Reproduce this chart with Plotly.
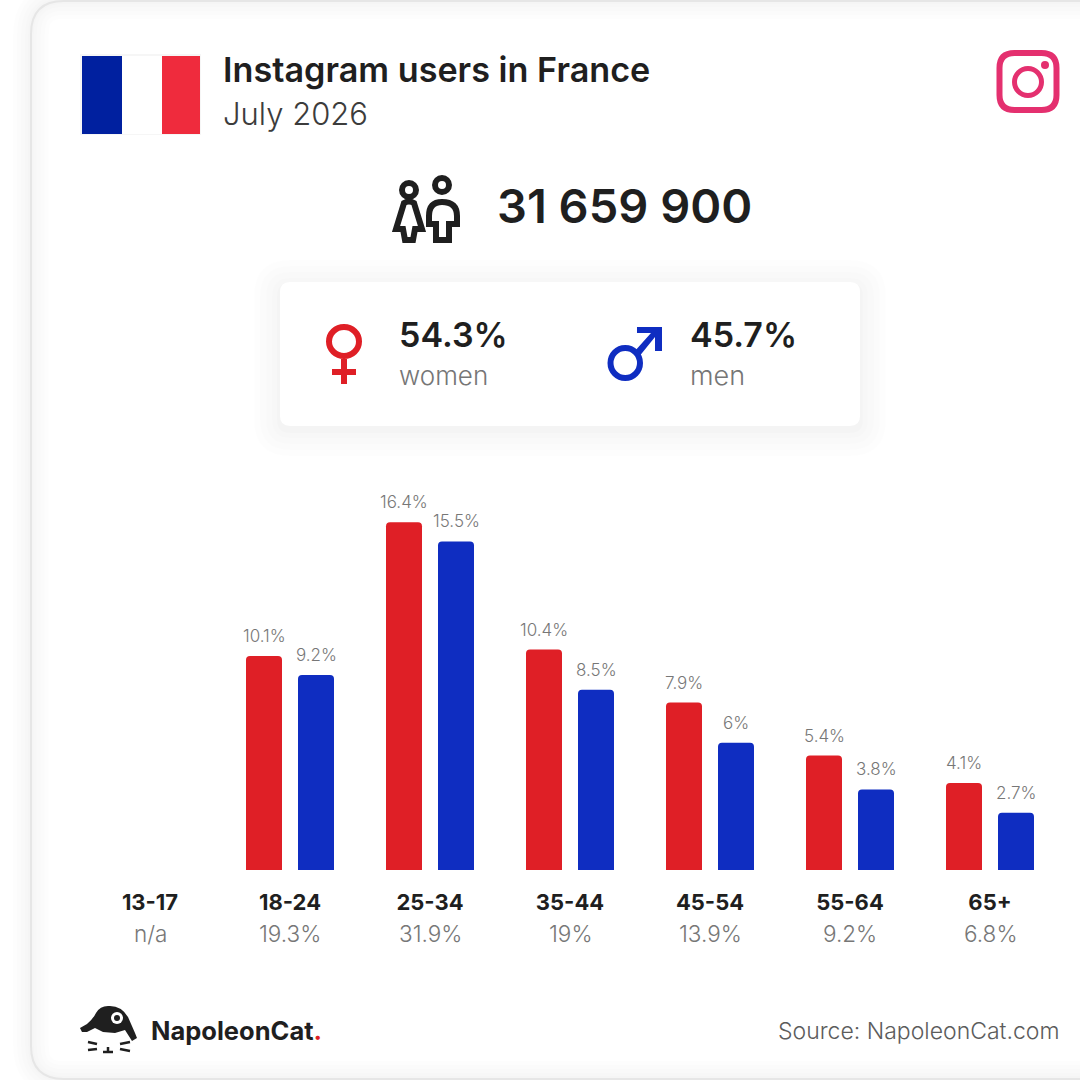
import plotly.graph_objects as go

ages = ['13-17', '18-24', '25-34', '35-44', '45-54', '55-64', '65+']
women = [None, 10.1, 16.4, 10.4, 7.9, 5.4, 4.1]
men = [None, 9.2, 15.5, 8.5, 6, 3.8, 2.7]
totals = ['n/a', '19.3%', '31.9%', '19%', '13.9%', '9.2%', '6.8%']

total_users = '31 659 900'
women_share = '54.3%'
men_share = '45.7%'

FONT = 'Inter'
INK = '#1f1f1f'
GREY = '#777777'
RED = '#df1f26'
BLUE = '#0f2dc1'
PINK = '#e4306f'

STEP = 140  # px between age groups
BAR = 36
BASE = 870  # px of the zero line
PX_PER_UNIT = 21.2


def fx(x):
    return x / 1080


def fy(y):
    return 1 - y / 1080


def path(*parts):
    # parts are letters or (x, y) in picture pixels
    out = []
    for part in parts:
        if isinstance(part, str):
            out.append(part)
        else:
            out.append(f'{fx(part[0]):.5f},{fy(part[1]):.5f}')
    return ' '.join(out)


def rounded(x0, y0, x1, y1, r):
    return path('M', (x0 + r, y0), 'L', (x1 - r, y0), 'Q', (x1, y0), (x1, y0 + r),
                'L', (x1, y1 - r), 'Q', (x1, y1), (x1 - r, y1), 'L', (x0 + r, y1),
                'Q', (x0, y1), (x0, y1 - r), 'L', (x0, y0 + r), 'Q', (x0, y0), (x0 + r, y0), 'Z')


shapes = []


def add_path(d, fill=None, line=None, width=0):
    s = dict(type='path', path=d, xref='paper', yref='paper', line=dict(width=width, color=line or 'rgba(0,0,0,0)'))
    if fill:
        s['fillcolor'] = fill
    shapes.append(s)


def add_rect(x0, y0, x1, y1, fill, line=None, width=0):
    shapes.append(dict(type='rect', xref='paper', yref='paper', x0=fx(x0), x1=fx(x1), y0=fy(y1), y1=fy(y0),
                       fillcolor=fill, line=dict(width=width, color=line or 'rgba(0,0,0,0)')))


def add_oval(x0, y0, x1, y1, fill=None, line=None, width=0):
    s = dict(type='circle', xref='paper', yref='paper', x0=fx(x0), x1=fx(x1), y0=fy(y1), y1=fy(y0),
             line=dict(width=width, color=line or 'rgba(0,0,0,0)'))
    if fill:
        s['fillcolor'] = fill
    shapes.append(s)


# card with a soft outer shadow
card = path('M', (1090, 1), 'L', (64, 1), 'Q', (31, 1), (31, 34), 'L', (31, 1046), 'Q', (31, 1079), (64, 1079), 'L', (1090, 1079))
for w in [36, 28, 20, 12, 6]:
    add_path(card, line='rgba(0,0,0,0.006)', width=w)
add_path(card, line='#e6e6e6', width=2)

# flag
add_rect(80, 54, 201, 135, '#f6f6f6')
add_rect(82, 56, 122, 134, '#00209f')
add_rect(122, 56, 162, 134, '#ffffff')
add_rect(162, 56, 200, 134, '#ef2b3d')

# instagram logo
add_path(rounded(999.5, 53, 1056.5, 110, 15), line=PINK, width=6)
add_oval(1014.5, 68.5, 1041.5, 95.5, line=PINK, width=5)
add_oval(1041, 61, 1049, 69, fill=PINK)

# people icon, female then male
add_oval(402, 183, 416, 197, line=INK, width=6)
add_oval(435, 178, 449, 192, line=INK, width=6)
add_path(path('M', (404, 203), 'Q', (409, 200), (414, 203), 'L', (422, 229), 'L', (415, 229), 'L', (413, 240), 'L', (405, 240),
              'L', (403, 229), 'L', (396, 229), 'Z'), line=INK, width=6)
add_path(path('M', (442, 202), 'Q', (457, 202), (457, 216), 'L', (457, 224), 'L', (449, 224), 'L', (449, 240),
              'L', (436, 240), 'L', (436, 224), 'L', (429, 224), 'L', (429, 216), 'Q', (429, 202), (442, 202), 'Z'),
         line=INK, width=6)

# gender panel with shadow
for grow, alpha in [(26, 0.006), (20, 0.007), (14, 0.008), (8, 0.009), (3, 0.01)]:
    add_path(rounded(280 - grow, 282 - grow + 4, 860 + grow, 426 + grow + 4, 10 + grow), fill=f'rgba(0,0,0,{alpha})')
add_path(rounded(280, 282, 860, 426, 10), fill='#ffffff')

# female symbol
add_oval(329, 327, 359, 356, line=RED, width=6)
add_rect(341, 359, 347, 384, RED)
add_rect(332, 369, 356, 375, RED)

# male symbol
add_oval(610.5, 348, 640, 378, line=BLUE, width=6)
add_path(path('M', (637, 327), 'L', (662, 327), 'L', (662, 351), 'L', (655, 351), 'L', (655, 337),
              'L', (638, 358), 'L', (634, 352), 'L', (651, 333), 'L', (637, 333), 'Z'), fill=BLUE)

# napoleoncat logo
add_path(path('M', (80, 1028), 'L', (87, 1024), 'Q', (93, 1019), (96, 1013), 'Q', (100, 1006), (108, 1006), 'Q', (121, 1005), (128, 1017),
              'L', (135, 1033), 'L', (137, 1038), 'L', (132, 1041), 'L', (125, 1030), 'L', (115, 1033), 'L', (103, 1032),
              'L', (95, 1028), 'L', (87, 1032), 'L', (82, 1032), 'Z'), fill=INK)
add_oval(111, 1012, 123, 1024, fill='#ffffff')
add_oval(114, 1015, 120, 1021, fill=INK)
for d in [((88, 1042), (97, 1044)), ((88, 1050), (97, 1049)), ((130, 1042), (120, 1044)), ((130, 1051), (120, 1049)),
          ((108, 1047), (108, 1052)), ((103, 1052), (113, 1052))]:
    add_path(path('M', d[0], 'L', d[1]), line=INK, width=2.5)

fig = go.Figure()
fig.add_trace(go.Bar(x=ages, y=women, width=BAR / STEP, offset=-44 / STEP, marker=dict(color=RED, line=dict(width=0)), name='women'))
fig.add_trace(go.Bar(x=ages, y=men, width=BAR / STEP, offset=8 / STEP, marker=dict(color=BLUE, line=dict(width=0)), name='men'))

annotations = []


def label(x, y, text, size, color=INK, anchor='left', weight=400):
    annotations.append(dict(x=fx(x), y=fy(y), xref='paper', yref='paper', text=text, showarrow=False, xanchor=anchor,
                            yanchor='middle', xshift=-3 if anchor == 'left' else 2,
                            font=dict(family=FONT, size=size, color=color, weight=weight)))


label(224, 70, 'Instagram users in France', 34.2, weight=600)
label(224, 114, 'July 2026', 31, color='#3c3c3c', weight=300)
label(498, 205, total_users, 47, weight=600)
label(400, 335, women_share, 34, weight=600)
label(400, 376, 'women', 26, color='#767676', weight=300)
label(691, 335, men_share, 34, weight=600)
label(691, 376, 'men', 27, color='#767676', weight=300)
label(152, 1030, 'NapoleonCat<span style="color:#df1f26">.</span>', 25.5, weight=700)
label(1059, 1031, 'Source: NapoleonCat.com', 23, color='#5c5c5c', anchor='right', weight=300)

for age, w, m, total in zip(ages, women, men, totals):
    annotations.append(dict(x=age, y=fy(933.5), xref='x', yref='paper', yanchor='middle', text=total, showarrow=False,
                            font=dict(family=FONT, size=22.5, color=GREY, weight=300)))
    for val, shift in [(w, -26), (m, 26)]:
        if val is None:
            continue
        annotations.append(dict(x=age, y=val, xref='x', yref='y', yanchor='middle', text=f'{val:g}%', showarrow=False,
                                xshift=shift, yshift=20, font=dict(family=FONT, size=17, color=GREY, weight=300)))

fig.update_layout(
    width=1080,
    height=1080,
    margin=dict(l=0, r=0, t=0, b=0),
    paper_bgcolor='white',
    plot_bgcolor='rgba(0,0,0,0)',
    barmode='overlay',
    barcornerradius=4,
    showlegend=False,
    shapes=shapes,
    annotations=annotations,
    xaxis=dict(type='category', categoryorder='array', categoryarray=ages, range=[-150 / STEP, 930 / STEP],
               showgrid=False, zeroline=False, showline=False, ticks='', ticklabelstandoff=17,
               tickmode='array', tickvals=ages, ticktext=[f'<b>{a}</b>' for a in ages],
               tickfont=dict(family=FONT, size=22, color=INK, weight=700)),
    yaxis=dict(domain=[(1080 - BASE) / 1080, 1], range=[0, BASE / PX_PER_UNIT], visible=False),
)

# the page's default body margin would push the chart 8px in
fig.write_html("out.html", config=dict(displayModeBar=False),
               post_script="document.body.style.margin='0';document.body.style.overflow='hidden';")
